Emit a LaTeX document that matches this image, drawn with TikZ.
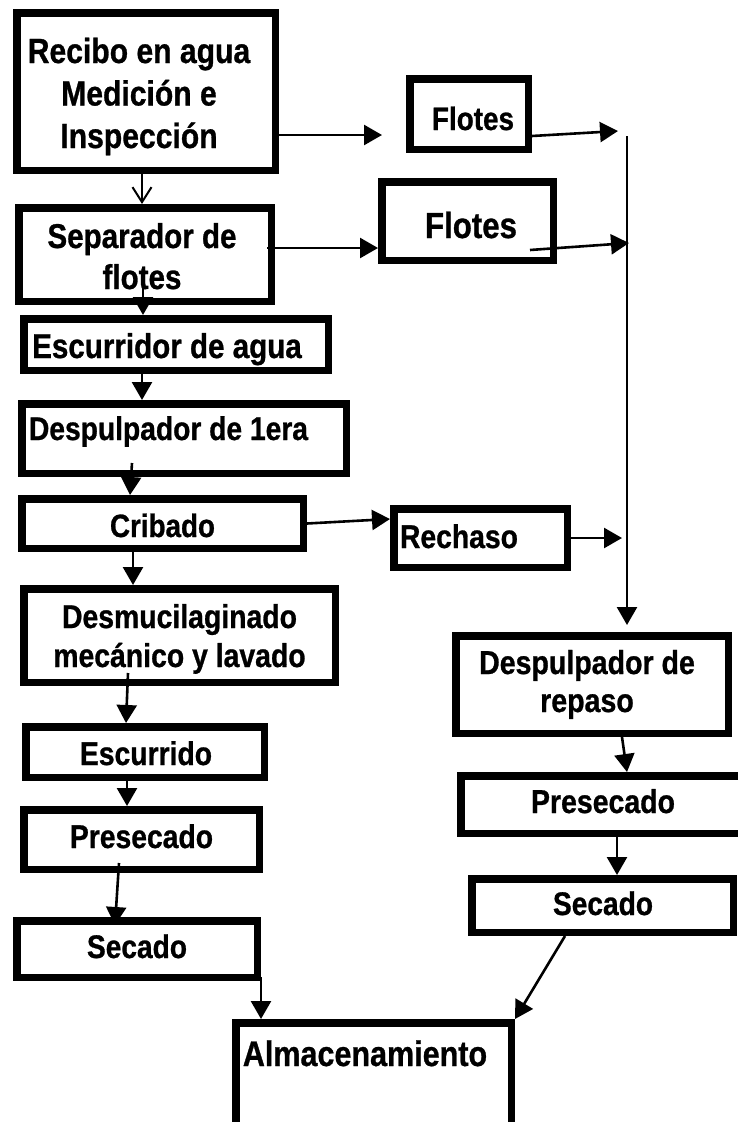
\documentclass[tikz,border=0pt]{standalone}
\usepackage{fontspec}
\setmainfont{Liberation Sans}[FakeStretch=0.86,BoldFeatures={FakeBold=0.8}]
\usetikzlibrary{arrows.meta}
\newcommand\myfs[2]{\bfseries\fontsize{#1}{#2}\selectfont}
\begin{document}
\begin{tikzpicture}[x=1pt,y=-1pt,
  box/.style={draw,line width=7.5pt,anchor=north west,inner sep=0pt},
  txt/.style={inner sep=0pt,anchor=base,align=center},
  arr/.style={line width=2.6pt,-{Triangle[length=18pt,width=20pt]}},
  barb/.style={line width=2pt,-{Straight Barb[length=15pt,width=19pt]}}]
\path[use as bounding box] (0,0) rectangle (738,1122);
\clip (0,0) rectangle (738,1122);
% left column boxes
\node[box,minimum width=258.5pt,minimum height=157.5pt] (b1) at (13,9) {};
\node[box,minimum width=252.5pt,minimum height=93.5pt] (b2) at (15,204) {};
\node[box,minimum width=304.5pt,minimum height=51.5pt] (b3) at (20,315) {};
\node[box,minimum width=324.5pt,minimum height=69.5pt] (b4) at (18,400) {};
\node[box,minimum width=281.5pt,minimum height=49.5pt] (b5) at (18,495) {};
\node[box,minimum width=311.5pt,minimum height=93.5pt] (b6) at (20,585) {};
\node[box,minimum width=238.5pt,minimum height=50.5pt] (b7) at (22,723) {};
\node[box,minimum width=235.5pt,minimum height=59.5pt] (b8) at (20,806) {};
\node[box,minimum width=240.5pt,minimum height=56.5pt] (b9) at (13,917) {};
\node[box,minimum width=275.5pt,minimum height=200pt] (b10) at (232,1019) {};
% right column boxes
\node[box,minimum width=118.5pt,minimum height=70.5pt] (f1) at (406,75) {};
\node[box,minimum width=171.5pt,minimum height=78.5pt] (f2) at (378,178) {};
\node[box,minimum width=173.5pt,minimum height=58.5pt] (r1) at (390,505) {};
\node[box,minimum width=272.5pt,minimum height=97.5pt] (r2) at (452,632) {};
\node[box,minimum width=295.5pt,minimum height=57.5pt] (r3) at (457,772) {};
\node[box,minimum width=261.5pt,minimum height=53.5pt] (r4) at (468,875) {};
% texts
\node[txt,font=\myfs{35}{42.5}] (t1) at (139,148) {Recibo en agua\\Medición e\\Inspección};
\node[txt,font=\myfs{34.4}{41}] (t2) at (142,289) {Separador de\\flotes};
\node[txt,font=\myfs{34.4}{40}] (t3) at (167,358) {Escurridor de agua};
\node[txt,font=\myfs{32.8}{40}] (t4) at (168.5,440) {Despulpador de 1era};
\node[txt,font=\myfs{32.3}{40}] (t5) at (162.5,537) {Cribado};
\node[txt,font=\myfs{33}{39}] (t6) at (179.5,667) {Desmucilaginado\\mecánico y lavado};
\node[txt,font=\myfs{32.9}{40}] (t7) at (146,765) {Escurrido};
\node[txt,font=\myfs{32.9}{40}] (t8) at (141.5,848) {Presecado};
\node[txt,font=\myfs{32.7}{40}] (t9) at (137,958) {Secado};
\node[txt,font=\myfs{35.5}{40}] (t10) at (365,1066) {Almacenamiento};
\node[txt,font=\myfs{32.4}{40}] (t11) at (473,130) {Flotes};
\node[txt,font=\myfs{36.3}{40}] (t12) at (471,238) {Flotes};
\node[txt,font=\myfs{32.9}{40}] (t13) at (459,548) {Rechaso};
\node[txt,font=\myfs{33.2}{38}] (t14) at (587,712) {Despulpador de\\repaso};
\node[txt,font=\myfs{33.1}{40}] (t15) at (603,813) {Presecado};
\node[txt,font=\myfs{32.7}{40}] (t16) at (603,915) {Secado};
% junction coordinates
\coordinate (f0) at (382,135);
\coordinate (top) at (627,136);
\coordinate (j1) at (618,131);
\coordinate (j2) at (629,243);
\coordinate (j3) at (622,538);
% connectors
\draw[arr] (b1.east |- f0) -- (f0);
\draw[barb] ([xshift=-4pt]b1.south) -- ([xshift=-3pt]b2.north);
\draw[arr] ([shift={(-8pt,6.5pt)}]b2.east) -- ([yshift=-27pt]f2.west);
\draw[arr] ([shift={(-2pt,-12.5pt)}]b2.center) -- ([xshift=-33pt]b3.north);
\draw[arr] ([xshift=-34pt]b3.south) -- ([xshift=-42pt]b4.north);
\draw[arr] ([shift={(-52pt,-24.5pt)}]b4.center) -- ([xshift=-32.5pt]b5.north);
\draw[arr] (b5.east) -- ([yshift=19pt]r1.west);
\draw[arr] ([xshift=-29.5pt]b5.south) -- ([xshift=-46.5pt]b6.north);
\draw[arr] ([shift={(-51.5pt,-37.5pt)}]b6.center) -- ([xshift=-19pt]b7.north);
\draw[arr] ([xshift=-18pt]b7.south) -- ([xshift=-14.5pt]b8.north);
\draw[arr] ([shift={(-22.5pt,-23.5pt)}]b8.center) -- ([shift={(-22pt,-8pt)}]b9.north);
\draw[arr] ([yshift=4pt]b9.south east) -- ([xshift=29pt]b10.north west);
\draw[arr] ([yshift=-22pt]f1.east) -- (j1);
\draw[arr] ([shift={(62.5pt,-29pt)}]f2.center) -- (j2);
\draw[arr] (r1.east) -- (j3);
\draw[arr,shorten >=7pt] (top) -- ([xshift=35pt]r2.north);
\draw[arr] ([xshift=30pt]r2.south) -- ([xshift=18.5pt]r3.north);
\draw[arr] ([xshift=8.5pt]r3.south) -- ([xshift=14.5pt]r4.north);
\draw[arr] ([xshift=-37.5pt]r4.south) -- (b10.north east);
\end{tikzpicture}
\end{document}
